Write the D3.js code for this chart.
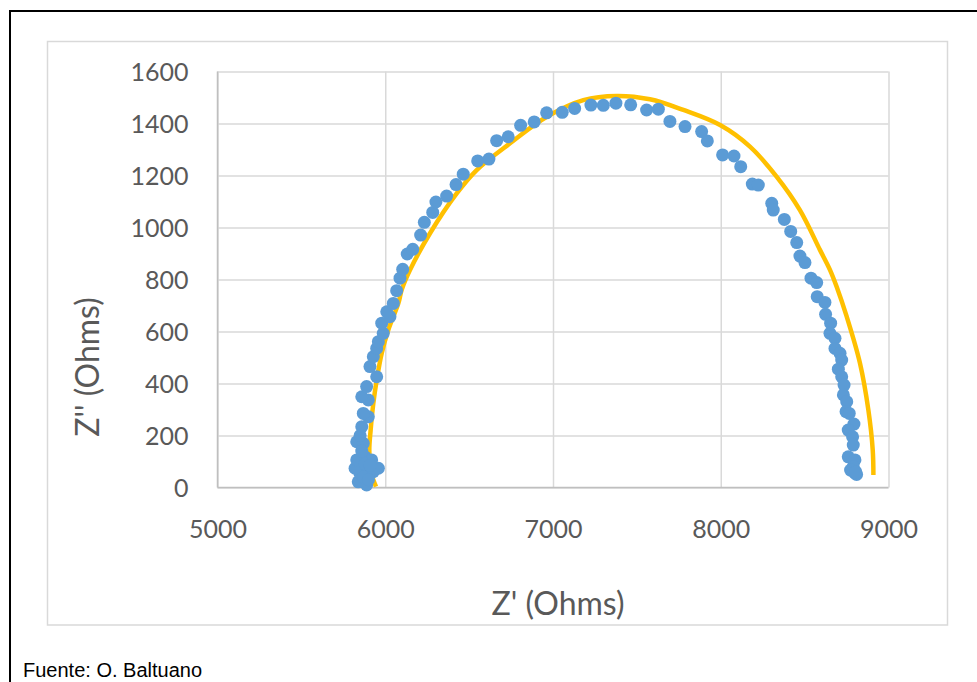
<!DOCTYPE html>
<html>
<head>
<meta charset="utf-8">
<script src="https://cdn.jsdelivr.net/npm/d3@7"></script>
<style>
  html, body { margin: 0; padding: 0; background: #fff; }
  svg { display: block; }
</style>
</head>
<body>
<svg id="chart" width="977" height="682"></svg>
<script>
// Measured impedance data (blue points)
const zReal = [5889,5839,5929,5899,5849,5820,5959,5830,5879,5919,5830,5869,5860,5899,5869,5899,5860,5889,5949,5909,
  5929,5949,5959,5988,5979,6028,6009,6048,6068,6088,6104,6131,6164,6211,6233,6283,6302,6366,6422,6465,
  6551,6618,6664,6733,6807,6888,6962,7055,7129,7226,7300,7375,7463,7558,7628,7697,7787,7886,7920,8011,
  8079,8119,8188,8224,8304,8313,8379,8417,8453,8472,8502,8538,8572,8575,8621,8625,8655,8651,8681,8681,
  8711,8721,8701,8721,8735,8731,8751,8747,8766,8794,8760,8786,8790,8760,8800,8790,8800,8774,8810,8805,
  5870,5880,5860,5850,5900,5910];
const zImag = [10,22,61,55,55,74,74,106,118,106,176,170,234,272,285,337,349,388,426,465,
  503,535,561,593,632,657,676,708,757,805,839,898,916,971,1020,1058,1098,1121,1165,1205,
  1256,1263,1334,1349,1393,1406,1441,1443,1458,1471,1470,1478,1472,1452,1455,1408,1388,1369,1333,1279,
  1275,1234,1167,1163,1093,1067,1031,985,942,890,865,805,788,734,712,666,632,593,574,535,
  516,490,455,426,394,356,330,292,285,244,221,195,163,118,106,80,55,67,50,60,
  40,90,140,200,30,85];

// Fitted curve (yellow line)
const fitReal = [5945,5915,5905,5913,5929,5949,5979,6018,6078,6098,6148,6267,6426,6545,6744,6963,7181,7380,7578,7777,
  7996,8174,8334,8472,8592,8651,8691,8751,8830,8880,8906,8910];
const fitImag = [3,60,144,221,324,413,516,606,708,760,837,978,1131,1221,1324,1426,1490,1506,1493,1452,
  1394,1311,1195,1067,913,837,772,657,478,298,144,48];

const xTicks = [5000,6000,7000,8000,9000];
const yTicks = [0,200,400,600,800,1000,1200,1400,1600];
const xTitle = "Z' (Ohms)";
const yTitle = "Z'' (Ohms)";
const source = "Fuente: O. Baltuano";

const svg = d3.select("#chart");
const plot = {left: 217.5, right: 888.5, top: 71.5, bottom: 487.5};

// outer frame (left + top only visible)
svg.append("path")
  .attr("d", `M10,682 V11 H977`)
  .attr("fill", "none").attr("stroke", "#000").attr("stroke-width", 2);

// chart area border
svg.append("rect")
  .attr("x", 47.5).attr("y", 41.5).attr("width", 900).attr("height", 583.5)
  .attr("fill", "#fff").attr("stroke", "#d9d9d9").attr("stroke-width", 1.5);

const x = d3.scaleLinear().domain([5000, 9000]).range([plot.left, plot.right]);
const y = d3.scaleLinear().domain([0, 1600]).range([plot.bottom, plot.top]);

// gridlines
const gy = svg.append("g").attr("transform", `translate(${plot.left},0)`)
  .call(d3.axisLeft(y).tickValues(yTicks).tickSize(-(plot.right - plot.left)).tickFormat(""));
gy.select(".domain").remove();
gy.selectAll("line").attr("stroke", "#d9d9d9").attr("stroke-width", 1.5);

const gx = svg.append("g").attr("transform", `translate(0,${plot.bottom})`)
  .call(d3.axisBottom(x).tickValues(xTicks).tickSize(-(plot.bottom - plot.top)).tickFormat(""));
gx.select(".domain").remove();
gx.selectAll("line").attr("stroke", "#d9d9d9").attr("stroke-width", 1.5);

// axis lines
svg.append("line").attr("x1", plot.left).attr("x2", plot.left).attr("y1", plot.top).attr("y2", plot.bottom)
  .attr("stroke", "#bfbfbf").attr("stroke-width", 1.5);
svg.append("line").attr("x1", plot.left).attr("x2", plot.right).attr("y1", plot.bottom).attr("y2", plot.bottom)
  .attr("stroke", "#bfbfbf").attr("stroke-width", 1.5);

// tick labels
const labFont = "Lato, 'Open Sans', sans-serif";
const ax = svg.append("g").attr("transform", `translate(0,${plot.bottom})`)
  .call(d3.axisBottom(x).tickValues(xTicks).tickSize(0).tickPadding(0).tickFormat(d3.format("d")));
ax.select(".domain").remove();
ax.selectAll("text").attr("y", 50).attr("dy", null)
  .attr("font-family", labFont).attr("font-size", 25).attr("fill", "#595959");

const ay = svg.append("g").attr("transform", `translate(${plot.left},0)`)
  .call(d3.axisLeft(y).tickValues(yTicks).tickSize(0).tickPadding(0).tickFormat(d3.format("d")));
ay.select(".domain").remove();
ay.selectAll("text").attr("x", -29).attr("dy", "0.35em")
  .attr("font-family", labFont).attr("font-size", 25).attr("fill", "#595959");

// fit line
const line = d3.line().x(i => x(fitReal[i])).y(i => y(fitImag[i])).curve(d3.curveCatmullRom.alpha(0.5));
svg.append("path").attr("d", line(d3.range(fitReal.length)))
  .attr("fill", "none").attr("stroke", "#ffc000").attr("stroke-width", 4.5);

// data points
svg.append("g").selectAll("circle").data(d3.range(zReal.length)).join("circle")
  .attr("cx", i => x(zReal[i])).attr("cy", i => y(zImag[i])).attr("r", 6.5)
  .attr("fill", "#5b9bd5");

// titles
svg.append("text").attr("x", 558).attr("y", 615).attr("text-anchor", "middle")
  .attr("font-family", labFont).attr("font-size", 32).attr("fill", "#595959").text(xTitle);
svg.append("text").attr("transform", "translate(99,367) rotate(-90)").attr("text-anchor", "middle")
  .attr("font-family", labFont).attr("font-size", 32).attr("fill", "#595959").text(yTitle);

svg.append("text").attr("x", 23).attr("y", 677)
  .attr("font-family", "'Liberation Sans', Arial, sans-serif").attr("font-size", 20).attr("fill", "#000").text(source);
</script>
</body>
</html>
